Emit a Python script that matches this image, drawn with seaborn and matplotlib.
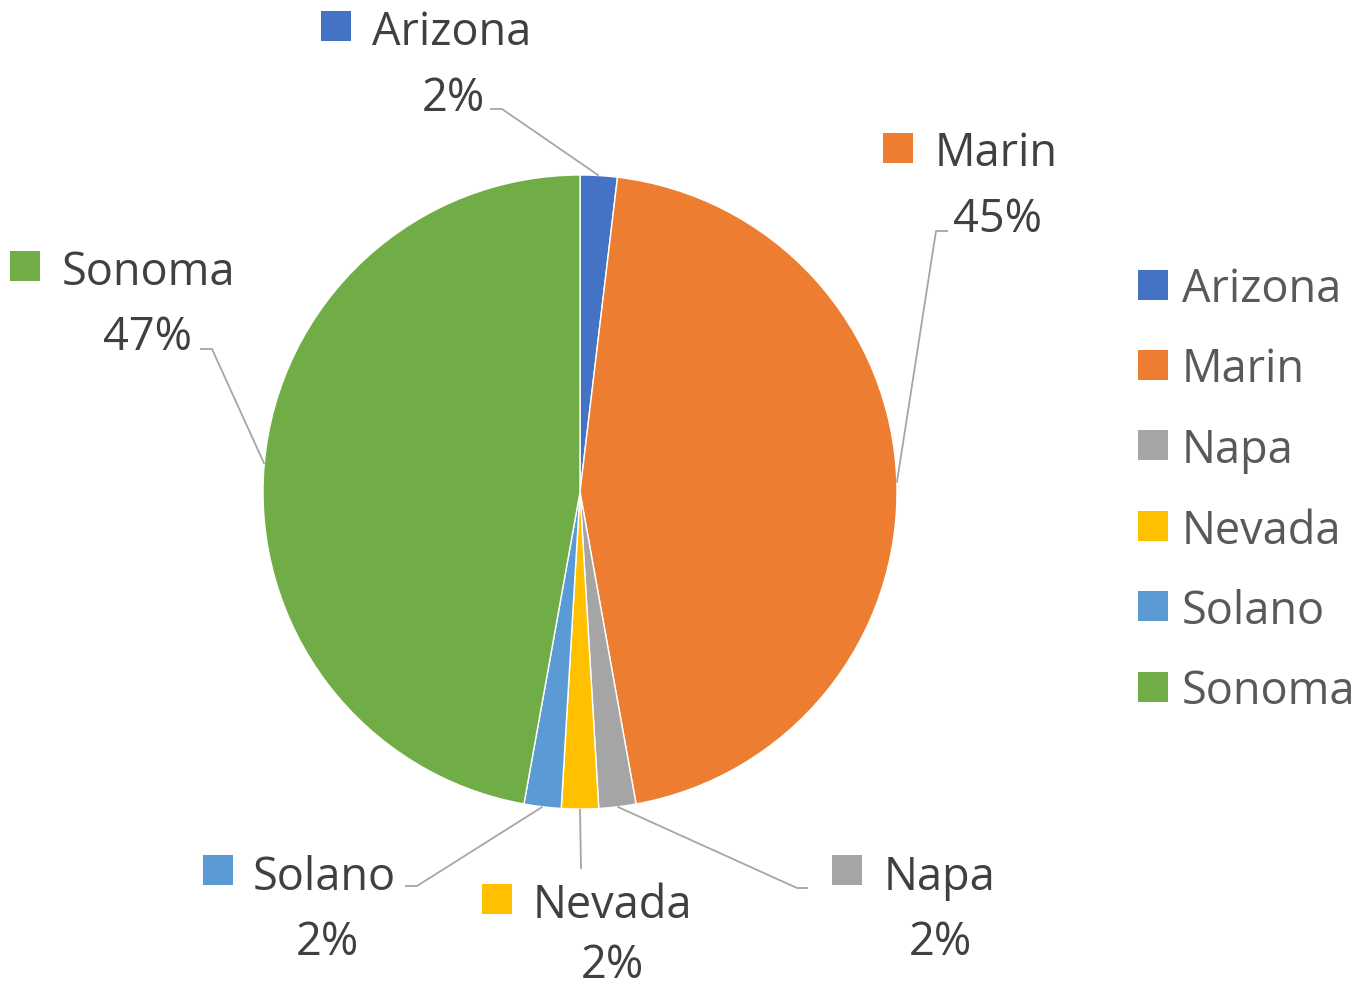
import numpy as np
import matplotlib
matplotlib.use("Agg")
import matplotlib.pyplot as plt
import seaborn as sns

# data
regions = ["Arizona", "Marin", "Napa", "Nevada", "Solano", "Sonoma"]
counts = [1, 24, 1, 1, 1, 25]
colors = ["#4472C4", "#ED7D31", "#A5A5A5", "#FFC000", "#5B9BD5", "#70AD47"]

sns.set_theme(style="white")
plt.rcParams["font.family"] = ["Open Sans", "DejaVu Sans"]

W, H = 1372, 988
fig = plt.figure(figsize=(W / 100, H / 100), dpi=100)
ax = fig.add_axes([0, 0, 1, 1])
ax.set_xlim(0, W)
ax.set_ylim(0, H)
ax.set_aspect("equal")
ax.axis("off")

cx, cy, r = 580, H - 492, 317
wedges, _ = ax.pie(counts, colors=sns.color_palette(colors), startangle=90,
                   counterclock=False, center=(cx, cy), radius=r,
                   wedgeprops=dict(edgecolor="white", linewidth=1),
                   frame=True)
ax.set_xlim(0, W)
ax.set_ylim(0, H)
ax.axis("off")

total = sum(counts)
pcts = [f"{round(100 * c / total)}%" for c in counts]

fs = 32.5
lab_col = "#404040"
sq = 30

# label layout in pixels (top-left origin): marker centre, name left/baseline,
# pct centre/baseline, leader elbow, leader end
layout = {
    "Arizona": dict(m=(336, 26), n=(372, 45), p=(453, 111), elbow=(502, 109), end=(490, 109)),
    "Marin": dict(m=(898, 148), n=(935, 166), p=(998, 232), elbow=(936, 231), end=(948, 231)),
    "Napa": dict(m=(847, 870), n=(884, 890), p=(940, 955), elbow=(797, 888), end=(808, 888)),
    "Nevada": dict(m=(497, 899), n=(533, 918), p=(612, 978), elbow=(581, 869), end=(581, 869)),
    "Solano": dict(m=(218, 870), n=(253, 890), p=(327, 955), elbow=(417, 886), end=(405, 886)),
    "Sonoma": dict(m=(25, 266), n=(62, 285), p=(148, 350), elbow=(212, 349), end=(200, 349)),
}

for w, name, col, pct in zip(wedges, regions, colors, pcts):
    L = layout[name]
    ang = np.deg2rad((w.theta1 + w.theta2) / 2)
    sx, sy = cx + r * np.cos(ang), cy + r * np.sin(ang)
    ex, ey = L["elbow"]
    tx, ty = L["end"]
    ax.plot([sx, ex, tx], [sy, H - ey, H - ty], color="#A6A6A6", lw=1.3,
            solid_capstyle="butt", zorder=1)
    mx, my = L["m"]
    ax.add_patch(plt.Rectangle((mx - sq / 2, H - my - sq / 2), sq, sq,
                               color=col, lw=0))
    nx, ny = L["n"]
    ax.text(nx, H - ny, name, fontsize=fs, color=lab_col, ha="left", va="baseline")
    px, py = L["p"]
    ax.text(px, H - py, pct, fontsize=fs, color=lab_col, ha="center", va="baseline")

# legend on the right
leg_y = [285, 365, 445, 526, 606, 687]
for name, col, y in zip(regions, colors, leg_y):
    ax.add_patch(plt.Rectangle((1138, H - y - sq / 2), sq, sq, color=col, lw=0))
    ax.text(1182, H - y, name, fontsize=fs, color="#595959", ha="left",
            va="center_baseline")

fig.savefig("out.png", dpi=100, facecolor="white")
